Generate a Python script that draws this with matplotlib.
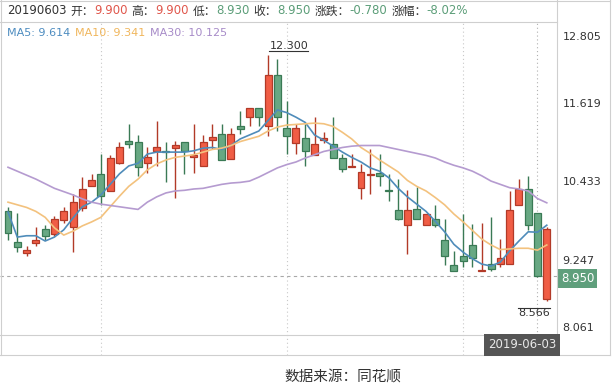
import matplotlib
matplotlib.use("Agg")
import matplotlib.pyplot as plt
from matplotlib.lines import Line2D
from matplotlib.patches import Rectangle
import numpy as np

plt.rcParams['font.family'] = ['DejaVu Sans', 'Noto Sans CJK SC']

# daily candles (last full day is 2019-06-03, index 57)
opens = [9.93, 9.46, 9.30, 9.45, 9.66, 9.58, 9.80, 9.70, 9.98, 10.31,
         10.50, 10.24, 10.66, 11.00, 10.99, 10.67, 10.85, 10.85, 10.89, 10.98,
         10.76, 10.62, 11.01, 11.10, 10.73, 11.22, 11.36, 11.50, 11.23, 12.00,
         11.20, 10.97, 11.04, 10.78, 11.01, 10.96, 10.74, 10.60, 10.28, 10.48,
         10.51, 10.26, 9.95, 9.72, 9.97, 9.72, 9.81, 9.50, 9.12, 9.25,
         9.42, 9.02, 9.13, 9.13, 9.13, 10.03, 10.27, 9.90, 8.60]
highs = [10.00, 9.90, 9.41, 9.69, 9.73, 9.86, 10.00, 10.20, 10.45, 10.50,
         10.80, 10.79, 10.98, 11.25, 11.09, 10.90, 11.30, 10.98, 11.00, 10.98,
         11.25, 11.09, 11.25, 11.25, 11.19, 11.45, 11.50, 11.50, 12.30, 12.24,
         11.61, 11.25, 11.25, 11.37, 11.13, 11.37, 10.80, 10.80, 10.65, 10.87,
         10.80, 10.50, 10.42, 10.26, 10.30, 9.89, 10.02, 9.81, 9.33, 9.89,
         9.74, 9.76, 9.84, 9.51, 10.24, 10.42, 10.47, 9.90, 9.69]
lows = [9.49, 9.31, 9.26, 9.41, 9.50, 9.55, 9.76, 9.31, 9.94, 10.31,
        10.02, 10.24, 10.65, 10.89, 10.46, 10.52, 10.62, 10.37, 10.13, 10.50,
        10.52, 10.62, 10.87, 10.71, 10.73, 11.10, 11.23, 11.23, 11.08, 11.15,
        10.80, 10.80, 10.62, 10.78, 10.97, 10.74, 10.53, 10.60, 10.12, 10.19,
        10.32, 10.09, 9.80, 9.29, 9.81, 9.72, 9.70, 9.12, 9.02, 9.08,
        9.08, 9.02, 9.03, 9.08, 9.13, 10.03, 9.64, 8.93, 8.566]
closes = [9.60, 9.39, 9.34, 9.50, 9.55, 9.81, 9.93, 10.07, 10.27, 10.41,
          10.16, 10.74, 10.90, 10.96, 10.61, 10.75, 10.90, 10.83, 10.94, 10.85,
          10.78, 10.98, 11.06, 10.71, 11.10, 11.18, 11.50, 11.36, 12.00, 11.37,
          11.07, 11.20, 10.85, 10.96, 11.04, 10.74, 10.57, 10.62, 10.53, 10.50,
          10.46, 10.24, 9.81, 9.95, 9.81, 9.89, 9.72, 9.25, 9.02, 9.17,
          9.22, 9.03, 9.05, 9.22, 9.95, 10.27, 9.73, 8.95, 9.66]

ma5 = [9.92, 9.54, 9.56, 9.56, 9.48, 9.54, 9.65, 9.83, 10.00, 10.07,
       10.18, 10.34, 10.50, 10.62, 10.66, 10.80, 10.83, 10.83, 10.83, 10.83,
       10.85, 10.89, 10.90, 10.87, 10.93, 11.03, 11.09, 11.15, 11.31, 11.47,
       11.43, 11.36, 11.28, 11.09, 11.01, 10.92, 10.83, 10.75, 10.68, 10.59,
       10.54, 10.44, 10.28, 10.15, 10.04, 9.93, 9.78, 9.62, 9.43, 9.31,
       9.21, 9.13, 9.10, 9.16, 9.33, 9.48, 9.62, 9.614, 9.72]
ma10 = [10.07, 10.03, 9.99, 9.93, 9.84, 9.68, 9.57, 9.63, 9.71, 9.77,
        9.84, 10.00, 10.16, 10.31, 10.42, 10.56, 10.65, 10.71, 10.75, 10.77,
        10.79, 10.83, 10.87, 10.89, 10.93, 10.99, 11.03, 11.07, 11.15, 11.21,
        11.24, 11.25, 11.26, 11.27, 11.26, 11.22, 11.13, 11.03, 10.90, 10.81,
        10.71, 10.62, 10.53, 10.40, 10.31, 10.24, 10.14, 10.03, 9.89, 9.77,
        9.64, 9.51, 9.42, 9.35, 9.36, 9.37, 9.37, 9.341, 9.42]
ma30 = [10.60, 10.54, 10.48, 10.42, 10.35, 10.28, 10.23, 10.18, 10.12, 10.07,
        10.04, 10.02, 10.00, 9.98, 9.96, 10.07, 10.15, 10.21, 10.24, 10.25,
        10.27, 10.28, 10.31, 10.34, 10.36, 10.37, 10.39, 10.45, 10.52, 10.59,
        10.64, 10.68, 10.74, 10.79, 10.84, 10.87, 10.90, 10.92, 10.93, 10.93,
        10.93, 10.90, 10.87, 10.84, 10.81, 10.78, 10.74, 10.68, 10.63, 10.59,
        10.54, 10.47, 10.39, 10.34, 10.29, 10.27, 10.24, 10.125, 10.06]

yticks = [12.805, 11.619, 10.433, 9.247, 8.061]
month_lines = [10, 30, 49]
cur = 57
cur_date = "20190603"
cur_date_label = "2019-06-03"
source = "数据来源：同花顺"

RED, RED_EDGE = "#f05d45", "#b23a28"
GREEN, GREEN_EDGE = "#68a883", "#3a7a55"
GRID = "#c8c8c8"
FRAME = "#cfcfcf"
W, H = 612, 392

fig = plt.figure(figsize=(6.12, 3.92), dpi=100)
ax = fig.add_axes([0, (H - 334.5) / H, 557 / W, (334.5 - 22) / H])
ax.set_xlim(-0.861, 59.10)
ax.set_ylim(yticks[-1], yticks[0])
ax.axis("off")

x = np.arange(len(closes))
o = np.array(opens); c = np.array(closes)
up = c >= o
col = np.where(up, RED, GREEN)
ecol = np.where(up, RED_EDGE, GREEN_EDGE)

ax.vlines(x, lows, highs, colors=ecol, lw=1.0, zorder=3)
bottoms = np.minimum(o, c)
heights = np.maximum(np.abs(c - o), 0.015)
ax.bar(x, heights, bottom=bottoms, width=0.75, color=col, edgecolor=ecol,
       linewidth=0.9, zorder=4)

ax.plot(x, ma5, color="#4f8cba", lw=1.2, zorder=5)
ax.plot(x, ma10, color="#f3c27e", lw=1.2, zorder=5)
ax.plot(x, ma30, color="#b59bd0", lw=1.2, zorder=5)

# grid / crosshair, running down into the date strip
strip = -20.5 / 312.5
for m in month_lines:
    ax.axvline(m, ymin=strip, ymax=1, color=GRID, lw=0.8, ls=(0, (1, 2.5)),
               clip_on=False, zorder=1)
ax.axvline(cur, ymin=strip, ymax=1, color="#b0b0b0", lw=0.8, ls=(0, (1, 2.5)),
           clip_on=False, zorder=2)
ax.axhline(closes[cur], color="#a8a8a8", lw=0.8, ls=(0, (3, 3)), zorder=2)

# price labels on the right
for i, v in enumerate(yticks):
    if i == 0:
        va, dy = "top", -7
    elif i == len(yticks) - 1:
        va, dy = "bottom", 1
    else:
        va, dy = "center", -3
    ax.annotate(f"{v:.3f}", xy=(1, v), xycoords=("axes fraction", "data"),
                xytext=(4, dy), textcoords="offset points", va=va, ha="left",
                fontsize=8, color="#333333", annotation_clip=False)

ax.annotate(f"{closes[cur]:.3f}", xy=(1, closes[cur]),
            xycoords=("axes fraction", "data"), xytext=(3, -2),
            textcoords="offset points", va="center", ha="left", fontsize=8.5,
            color="white", annotation_clip=False,
            bbox=dict(boxstyle="square,pad=0.25", fc="#5f9f7c", ec="none"))

# high / low markers
imax = int(np.argmax(highs)); imin = int(np.argmin(lows))
t_hi = ax.annotate(f"{highs[imax]:.3f}", xy=(imax, highs[imax]),
                   xytext=(1, 3), textcoords="offset points", ha="left",
                   va="bottom", fontsize=8, color="#333333")
t_lo = ax.annotate(f"{lows[imin]:.3f}", xy=(imin, lows[imin]),
                   xytext=(2, -5), textcoords="offset points", ha="right",
                   va="top", fontsize=8, color="#333333")

# frame lines in pixel coordinates
def hline(y, x0, x1):
    fig.add_artist(Line2D([x0 / W, x1 / W], [1 - y / H, 1 - y / H],
                          color=FRAME, lw=0.8))

def vline(xp, y0, y1):
    fig.add_artist(Line2D([xp / W, xp / W], [1 - y0 / H, 1 - y1 / H],
                          color=FRAME, lw=0.8))

hline(0.5, 0, 610); hline(22, 0, 557); hline(334.5, 0, 557); hline(355, 0, 610)
vline(0.5, 0, 355); vline(557, 0, 355); vline(610, 0, 355)

# date box in the strip
fig.text(556 / W, 1 - 345 / H, cur_date_label, ha="right", va="center",
         fontsize=8.5, color="#e8e8e8",
         bbox=dict(boxstyle="square,pad=0.35", fc="#555555", ec="none"))

fig.text(343 / W, 1 - 378 / H, source, ha="center", va="center",
         fontsize=10.5, color="#333333", family=["Noto Sans CJK SC"])

fig.canvas.draw()
renderer = fig.canvas.get_renderer()


def segments(x0, y0, parts, size):
    xp = x0
    for s, colr, gap in parts:
        t = fig.text(xp / W, 1 - y0 / H, s, color=colr, fontsize=size,
                     ha="left", va="center")
        bb = t.get_window_extent(renderer)
        xp += bb.width + gap


prev = closes[cur - 1]
chg = closes[cur] - prev
pct = chg / prev * 100
DARK, TRED, TGRN = "#333333", "#e0574c", "#5c9e79"
segments(7, 11, [
    (cur_date, DARK, 4),
    ("开：", DARK, 0), (f"{opens[cur]:.3f}", TRED, 4),
    ("高：", DARK, 0), (f"{highs[cur]:.3f}", TRED, 4),
    ("低：", DARK, 0), (f"{lows[cur]:.3f}", TGRN, 4),
    ("收：", DARK, 0), (f"{closes[cur]:.3f}", TGRN, 4),
    ("涨跌：", DARK, 0), (f"{chg:.3f}", TGRN, 4),
    ("涨幅：", DARK, 0), (f"{pct:.2f}%", TGRN, 0),
], 8.5)
segments(7, 33, [
    (f"MA5: {ma5[cur]:.3f}", "#4d8cc0", 5),
    (f"MA10: {ma10[cur]:.3f}", "#f0b65c", 5),
    (f"MA30: {ma30[cur]:.3f}", "#a78bc8", 0),
], 8)

# underline the high, overline the low
for t, side in ((t_hi, "y0"), (t_lo, "y1")):
    bb = t.get_window_extent(renderer)
    yy = getattr(bb, side)
    fig.add_artist(Line2D([bb.x0 / W, bb.x1 / W], [yy / H, yy / H],
                          color="#333333", lw=0.8))

fig.savefig("out.png", dpi=100, facecolor="white")
